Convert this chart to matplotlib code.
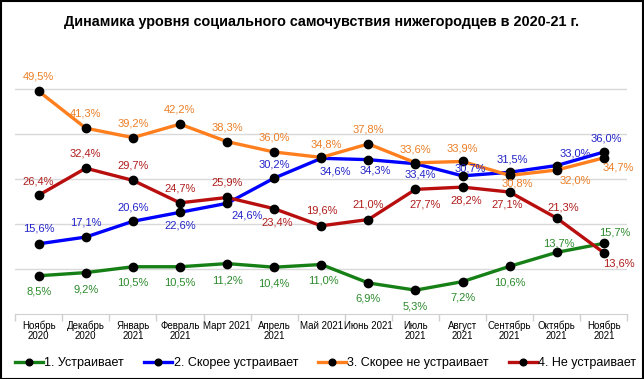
import matplotlib
matplotlib.use("Agg")
from matplotlib import pyplot as plt
from matplotlib.patches import Rectangle

plt.rcParams['font.family'] = ['Liberation Sans', 'DejaVu Sans']

#####################################################################################################
# Data
months = ["Ноябрь\n2020", "Декабрь\n2020", "Январь\n2021", "Февраль\n2021", "Март 2021",
          "Апрель\n2021", "Май 2021", "Июнь 2021", "Июль\n2021", "Август\n2021",
          "Сентябрь\n2021", "Октябрь\n2021", "Ноябрь\n2021"]

satisfied = [8.5, 9.2, 10.5, 10.5, 11.2, 10.4, 11.0, 6.9, 5.3, 7.2, 10.6, 13.7, 15.7]
rather_satisfied = [15.6, 17.1, 20.6, 22.6, 24.6, 30.2, 34.6, 34.3, 33.4, 30.7, 31.5, 33.0, 36.0]
rather_not = [49.5, 41.3, 39.2, 42.2, 38.3, 36.0, 34.8, 37.8, 33.6, 33.9, 30.8, 32.0, 34.7]
not_satisfied = [26.4, 32.4, 29.7, 24.7, 25.9, 23.4, 19.6, 21.0, 27.7, 28.2, 27.1, 21.3, 13.6]

series_names = ["1. Устраивает", "2. Скорее устраивает", "3. Скорее не устраивает", "4. Не устраивает"]

#####################################################################################################
# Styles: line colour, label colour, label offsets in pixels
styles = [
    ("#168016", "#2b8a2b",
     [(0, -16), (0, -17), (0, -16), (0, -16), (0, -17), (0, -16), (2, -16),
      (0, -16), (0, -16), (0, -16), (0, -16), (2, 9), (11, 11)]),
    ("#0000ff", "#2323c8",
     [(0, 15), (0, 15), (0, 14), (0, -13), (20, -12), (0, 14), (14, -13),
      (7, -11), (5, -11), (8, 7), (3, 13), (19, 12), (2, 14)]),
    ("#ff7f1e", "#ec7e26",
     [(0, 15), (0, 15), (0, 14), (0, 15), (0, 14), (0, 15), (5, 13),
      (0, 14), (0, 13), (0, 13), (8, -8), (19, -10), (14, -10)]),
    ("#b80e0e", "#b01c1c",
     [(0, 14), (0, 15), (0, 15), (0, 14), (0, 15), (3, -14), (1, 15),
      (0, 15), (10, -15), (4, -13), (-3, -12), (6, 11), (15, -11)]),
]

all_series = [satisfied, rather_satisfied, rather_not, not_satisfied]
draw_order = [0, 2, 3, 1]

fig = plt.figure(figsize=(6.44, 3.79), dpi=100)
ax = fig.add_axes([0.0235, 0.1715, 0.9508, 0.653])

x = list(range(len(months)))
lines = {}
for i in draw_order:
    color, tcolor, offsets = styles[i]
    vals = all_series[i]
    ln, = ax.plot(x, vals, color=color, lw=2.4, marker="o", markersize=6,
                  markerfacecolor="black", markeredgecolor="black", label=series_names[i],
                  zorder=3 + i * 0.1)
    lines[i] = ln
    for xi, v, (dx, dy) in zip(x, vals, offsets):
        ax.annotate(f"{v:.1f}%".replace(".", ","), (xi, v), xytext=(dx, dy),
                    textcoords="offset pixels", ha="center", va="center",
                    fontsize=8, color=tcolor, zorder=5)

ax.set_xlim(-0.5, len(months) - 0.5)
ax.set_ylim(0, 55)
ax.set_yticks([10, 20, 30, 40, 50])
ax.yaxis.grid(True, color="#d9d9d9", lw=1)
ax.set_axisbelow(True)
ax.tick_params(axis="y", left=False, labelleft=False)

ax.set_xticks(x)
ax.set_xticklabels(months, fontsize=7, linespacing=1.0)
ax.set_xticks([i - 0.5 for i in range(len(months) + 1)], minor=True)
ax.tick_params(axis="x", which="major", length=0, pad=5)
ax.tick_params(axis="x", which="minor", length=5, color="#d0d0d0", width=1)

for s in ["top", "left", "right"]:
    ax.spines[s].set_visible(False)
ax.spines["bottom"].set_color("#d0d0d0")

fig.text(0.5, 0.943, "Динамика уровня социального самочувствия нижегородцев в 2020-21 г.",
         ha="center", va="center", fontsize=10.4, fontweight="bold")

fig.legend([lines[i] for i in range(4)], series_names, loc="center", ncol=4,
           bbox_to_anchor=(0.506, 0.042), frameon=False, fontsize=9, markerscale=0.8,
           handlelength=2.2, handletextpad=0.15, columnspacing=1.6)

fig.patches.append(Rectangle((0.001, 0.001), 0.997, 0.996, transform=fig.transFigure,
                             fill=False, edgecolor="black", lw=1.5))

fig.savefig("out.png", dpi=100)
